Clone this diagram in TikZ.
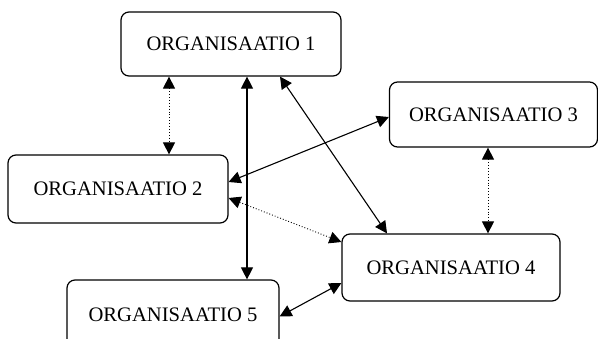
\documentclass[tikz,border=0pt]{standalone}
\usepackage{fontspec}
\setmainfont{Liberation Serif}
\usetikzlibrary{arrows.meta}
\usetikzlibrary{positioning}
\usetikzlibrary{calc}

\tikzset{org/.style={draw, rounded corners=8pt, line width=1.2pt, inner sep=0pt, font=\fontsize{20.6}{24}\selectfont}}
\tikzset{yhteys/.style={line width=1.1pt}}
\tikzset{katko/.style={line width=0.9pt, dotted}}

\begin{document}
\begin{tikzpicture}[x=1pt,y=-1pt,>={Triangle[length=12pt,width=12pt]}]
\path[use as bounding box] (0,0) rectangle (598,338);
\path node[org, minimum width=220pt, minimum height=64pt] at (231,44) (o1) {ORGANISAATIO 1};
\path node[org, minimum width=220pt, minimum height=68pt] at (118,189) (o2) {ORGANISAATIO 2};
\path node[org, minimum width=208pt, minimum height=65pt] at (493.5,114.5) (o3) {ORGANISAATIO 3};
\path node[org, minimum width=218pt, minimum height=67pt] at (451,267.5) (o4) {ORGANISAATIO 4};
\path node[org, minimum width=212pt, minimum height=70pt] at (173,315) (o5) {ORGANISAATIO 5};
% yhteydet
\path[<->, katko] ([xshift=-62pt]o1.south) edge ([xshift=-62pt]o1.south |- o2.north);
\path[<->, yhteys] ([xshift=16pt]o1.south) edge ([xshift=16pt]o1.south |- o5.north);
\path[<->, yhteys] ([xshift=49pt]o1.south) edge ([xshift=-64pt]o4.north);
\path[<->, yhteys] ([yshift=7pt]o2.east) edge ([yshift=-2.5pt]o3.west);
\path[<->, katko] ([yshift=-9pt]o2.east) edge ([yshift=25.5pt]o4.west);
\path[<->, katko] ([xshift=-5.5pt]o3.south) edge ([xshift=-5.5pt]o3.south |- o4.north);
\path[<->, yhteys] ([yshift=-15.5pt]o4.west) edge ([yshift=-1.5pt]o5.east);
\end{tikzpicture}
\end{document}
